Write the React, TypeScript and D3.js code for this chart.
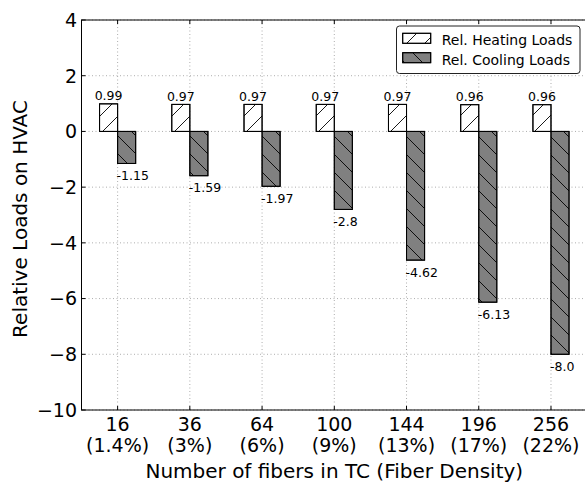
import React from "react";
import * as d3 from "d3";

const categories = ["16", "36", "64", "100", "144", "196", "256"];
const densities = ["(1.4%)", "(3%)", "(6%)", "(9%)", "(13%)", "(17%)", "(22%)"];
const heating = [0.99, 0.97, 0.97, 0.97, 0.97, 0.96, 0.96];
const cooling = [-1.15, -1.59, -1.97, -2.8, -4.62, -6.13, -8.0];
const yTicks = [4, 2, 0, -2, -4, -6, -8, -10];
const seriesNames = ["Rel. Heating Loads", "Rel. Cooling Loads"];

const W = 585;
const H = 486;
const FONT = "DejaVu Sans, sans-serif";

const fmt = (v: number) => (Number.isInteger(v) ? v.toFixed(1) : String(v));
const tickFmt = (v: number) => (v < 0 ? "\u2212" + Math.abs(v) : String(v));

export default function App() {
  const x = d3.scaleLinear().domain([-0.5, 6.5]).range([81.5, 587.1]);
  const y = d3.scaleLinear().domain([-10, 4]).range([410, 20]);
  const barW = x(0.25) - x(0);
  const idx = d3.range(categories.length);
  const left = x(-0.5);
  const right = x(6.5);
  const top = y(4);
  const bottom = y(-10);

  return (
    <svg
      width={W}
      height={H}
      style={{ position: "absolute", left: 0, top: 0, background: "#fff", display: "block" }}
      fontFamily={FONT}
    >
      <defs>
        <pattern id="hatchF" patternUnits="userSpaceOnUse" width={18} height={18}>
          <path d="M0,18 L18,0 M-4.5,4.5 L4.5,-4.5 M13.5,22.5 L22.5,13.5" stroke="#000" strokeWidth={0.9} />
        </pattern>
        <pattern id="hatchB" patternUnits="userSpaceOnUse" width={18} height={18}>
          <path d="M0,0 L18,18 M-4.5,13.5 L4.5,22.5 M13.5,-4.5 L22.5,4.5" stroke="#000" strokeWidth={0.9} />
        </pattern>
      </defs>
      <rect x={0} y={0} width={W} height={H} fill="#fff" />

      {/* grid */}
      {yTicks.map((t) => (
        <line key={"gy" + t} x1={left} x2={right} y1={y(t)} y2={y(t)} stroke="#8a8a8a" strokeWidth={0.7} strokeDasharray="1,2.5" />
      ))}
      {idx.map((i) => (
        <line key={"gx" + i} x1={x(i)} x2={x(i)} y1={top} y2={bottom} stroke="#8a8a8a" strokeWidth={0.7} strokeDasharray="1,2.5" />
      ))}

      {/* bars */}
      {idx.map((i) => (
        <g key={"b" + i}>
          <rect x={x(i) - barW} y={y(heating[i])} width={barW} height={y(0) - y(heating[i])} fill="#fff" stroke="#000" strokeWidth={1} />
          <rect x={x(i) - barW} y={y(heating[i])} width={barW} height={y(0) - y(heating[i])} fill="url(#hatchF)" stroke="#000" strokeWidth={1} />
          <rect x={x(i)} y={y(0)} width={barW} height={y(cooling[i]) - y(0)} fill="#808080" stroke="#000" strokeWidth={1} />
          <rect x={x(i)} y={y(0)} width={barW} height={y(cooling[i]) - y(0)} fill="url(#hatchB)" stroke="#000" strokeWidth={1} />
          <text x={x(i) - barW / 2} y={y(heating[i]) - 3.5} fontSize={12.5} textAnchor="middle" fill="#000">
            {heating[i].toFixed(2)}
          </text>
          <text x={x(i) - 1} y={y(cooling[i]) + 16.5} fontSize={12.5} textAnchor="start" fill="#000">
            {fmt(cooling[i])}
          </text>
        </g>
      ))}

      {/* spines */}
      <rect x={left} y={top} width={right - left} height={bottom - top} fill="none" stroke="#000" strokeWidth={1} />

      {/* ticks */}
      {yTicks.map((t) => (
        <g key={"ty" + t}>
          <line x1={left} x2={left + 4} y1={y(t)} y2={y(t)} stroke="#000" strokeWidth={1} />
          <text x={77} y={y(t)} dy="0.36em" fontSize={19} textAnchor="end" fill="#000">
            {tickFmt(t)}
          </text>
        </g>
      ))}
      {idx.map((i) => (
        <g key={"tx" + i}>
          <line x1={x(i)} x2={x(i)} y1={bottom} y2={bottom - 4} stroke="#000" strokeWidth={1} />
          <line x1={x(i)} x2={x(i)} y1={top} y2={top + 4} stroke="#000" strokeWidth={1} />
          <text x={x(i)} y={431} fontSize={19} textAnchor="middle" fill="#000">
            {categories[i]}
          </text>
          <text x={x(i)} y={452} fontSize={19} textAnchor="middle" fill="#000">
            {densities[i]}
          </text>
        </g>
      ))}

      {/* axis labels */}
      <text x={(left + right) / 2} y={477.5} fontSize={20} textAnchor="middle" fill="#000">
        Number of fibers in TC (Fiber Density)
      </text>
      <text transform={`translate(26.7,${219}) rotate(-90)`} fontSize={20} textAnchor="middle" fill="#000">
        Relative Loads on HVAC
      </text>

      {/* legend */}
      <rect x={396.5} y={26} width={183.5} height={47.5} rx={3} fill="#fff" stroke="#222" strokeWidth={1} />
      <rect x={402.7} y={33.3} width={28} height={10} fill="#fff" stroke="#000" strokeWidth={1} />
      <rect x={402.7} y={33.3} width={28} height={10} fill="url(#hatchF)" stroke="#000" strokeWidth={1} />
      <rect x={402.7} y={52.7} width={28} height={10} fill="#808080" stroke="#000" strokeWidth={1} />
      <rect x={402.7} y={52.7} width={28} height={10} fill="url(#hatchB)" stroke="#000" strokeWidth={1} />
      <text x={441.7} y={45.2} fontSize={14} fill="#000">{seriesNames[0]}</text>
      <text x={441.7} y={64.5} fontSize={14} fill="#000">{seriesNames[1]}</text>
    </svg>
  );
}
